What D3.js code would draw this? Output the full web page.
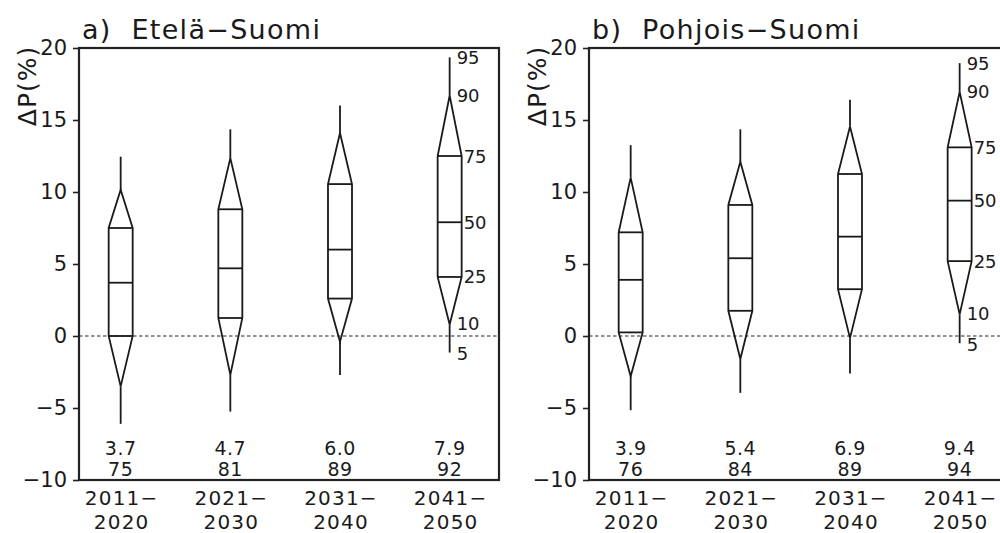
<!DOCTYPE html>
<html>
<head>
<meta charset="utf-8">
<script src="https://cdn.jsdelivr.net/npm/d3@7/dist/d3.min.js"></script>
<style>
  html, body { margin: 0; padding: 0; background: #fff; }
  svg { display: block; }
  text { font-family: "DejaVu Sans", sans-serif; fill: #1a1a1a; }
</style>
</head>
<body>
<svg id="chart" width="1000" height="533"></svg>
<script>
// Periods on the x axis (two text lines each)
const periodStart = ["2011−", "2021−", "2031−", "2041−"];
const periodEnd   = ["2020", "2030", "2040", "2050"];

// Percentile levels shown beside the last box
const pctLevels = [95, 90, 75, 50, 25, 10, 5];

// Southern Finland: percentiles of precipitation change (%)
const southP5  = [-6.1, -5.25, -2.7, -1.15];
const southP10 = [-3.5, -2.7, -0.4, 0.8];
const southP25 = [0.0, 1.25, 2.6, 4.1];
const southP50 = [3.7, 4.7, 6.0, 7.9];
const southP75 = [7.5, 8.8, 10.55, 12.5];
const southP90 = [10.15, 12.35, 14.1, 16.7];
const southP95 = [12.45, 14.35, 16.0, 19.35];
const southProb = [75, 81, 89, 92];

// Northern Finland
const northP5  = [-5.15, -3.95, -2.6, -0.5];
const northP10 = [-2.8, -1.6, -0.15, 1.5];
const northP25 = [0.25, 1.75, 3.25, 5.2];
const northP50 = [3.9, 5.4, 6.9, 9.4];
const northP75 = [7.2, 9.1, 11.25, 13.1];
const northP90 = [11.0, 12.1, 14.55, 16.95];
const northP95 = [13.25, 14.35, 16.4, 18.95];
const northProb = [76, 84, 89, 94];

// Y axis ticks
const yTicks = [-10, -5, 0, 5, 10, 15, 20];

const panels = [
  { title: "a)  Etelä−Suomi", x0: 79,
    p: [southP5, southP10, southP25, southP50, southP75, southP90, southP95], prob: southProb },
  { title: "b)  Pohjois−Suomi", x0: 589,
    p: [northP5, northP10, northP25, northP50, northP75, northP90, northP95], prob: northProb }
];

const svg = d3.select("#chart");
const plotW = 420, plotTop = 48, plotBottom = 480;
const halfW = 12;
const fmt = d3.format(".1f");
const minus = s => String(s).replace("-", "−");

const y = d3.scaleLinear().domain([-10, 20]).range([plotBottom, plotTop]);

panels.forEach(panel => {
  const g = svg.append("g");
  const x = d3.scaleLinear().domain([0.62, 4.45]).range([panel.x0, panel.x0 + plotW]);
  const idx = d3.range(periodStart.length);
  const [p5, p10, p25, p50, p75, p90, p95] = panel.p;

  // Zero reference line
  g.append("line")
    .attr("x1", x.range()[0]).attr("x2", x.range()[1])
    .attr("y1", y(0)).attr("y2", y(0))
    .attr("stroke", "#222").attr("stroke-width", 1)
    .attr("stroke-dasharray", "3.5,2.5");

  // Y axis
  const yAxis = d3.axisLeft(y).tickValues(yTicks).tickSize(6).tickPadding(6)
    .tickFormat(d => minus(d));
  const ya = g.append("g").attr("transform", `translate(${panel.x0},0)`).call(yAxis);
  ya.select(".domain").remove();
  ya.selectAll(".tick line").attr("stroke", "#222").attr("stroke-width", 1.6);
  ya.selectAll(".tick text").attr("font-size", 21).attr("fill", "#1a1a1a")
    .attr("font-family", "DejaVu Sans, sans-serif");

  // Frame
  g.append("rect")
    .attr("x", panel.x0).attr("y", plotTop)
    .attr("width", plotW).attr("height", plotBottom - plotTop)
    .attr("fill", "none").attr("stroke", "#222").attr("stroke-width", 2.2);

  // Title
  g.append("text")
    .attr("x", panel.x0 + 3).attr("y", 39)
    .attr("font-size", 27).attr("letter-spacing", 1.3).style("white-space", "pre")
    .text(panel.title);

  // Y label
  g.append("text")
    .attr("transform", `translate(${panel.x0 - 52},86) rotate(-90)`)
    .attr("text-anchor", "middle").attr("dominant-baseline", "central")
    .attr("font-size", 25).attr("letter-spacing", 1)
    .text("ΔP(%)");

  const stroke = "#1a1a1a", sw = 1.8;

  idx.forEach(i => {
    const cx = x(i + 1);
    // Whiskers 5–10 and 90–95
    g.append("line").attr("x1", cx).attr("x2", cx)
      .attr("y1", y(p95[i])).attr("y2", y(p90[i]))
      .attr("stroke", stroke).attr("stroke-width", sw);
    g.append("line").attr("x1", cx).attr("x2", cx)
      .attr("y1", y(p10[i])).attr("y2", y(p5[i]))
      .attr("stroke", stroke).attr("stroke-width", sw);
    // Outline: apex at 90, box 75–25, apex at 10
    const pts = [
      [cx, y(p90[i])], [cx + halfW, y(p75[i])], [cx + halfW, y(p25[i])],
      [cx, y(p10[i])], [cx - halfW, y(p25[i])], [cx - halfW, y(p75[i])]
    ];
    g.append("path").attr("d", d3.line()(pts) + "Z")
      .attr("fill", "none").attr("stroke", stroke).attr("stroke-width", sw)
      .attr("stroke-linejoin", "miter");
    // Horizontal lines at 75, 50, 25
    [p75[i], p50[i], p25[i]].forEach(v => {
      g.append("line").attr("x1", cx - halfW).attr("x2", cx + halfW)
        .attr("y1", y(v)).attr("y2", y(v))
        .attr("stroke", stroke).attr("stroke-width", sw);
    });

    // Median and probability text
    g.append("text").attr("x", cx).attr("y", y(-7.8))
      .attr("text-anchor", "middle").attr("dominant-baseline", "central")
      .attr("font-size", 19).attr("letter-spacing", 0.5).text(fmt(p50[i]));
    g.append("text").attr("x", cx).attr("y", y(-9.25))
      .attr("text-anchor", "middle").attr("dominant-baseline", "central")
      .attr("font-size", 19).attr("letter-spacing", 0.5).text(panel.prob[i]);

    // Period label, two lines
    g.append("text").attr("x", cx + 1).attr("y", 497.5)
      .attr("text-anchor", "middle").attr("dominant-baseline", "central")
      .attr("font-size", 20).attr("letter-spacing", 1.2).text(periodStart[i]);
    g.append("text").attr("x", cx + 1).attr("y", 521.5)
      .attr("text-anchor", "middle").attr("dominant-baseline", "central")
      .attr("font-size", 20).attr("letter-spacing", 1.2).text(periodEnd[i]);
  });

  // Percentile labels beside the last box
  const last = idx.length - 1;
  const lcx = x(last + 1);
  const vals = [p95[last], p90[last], p75[last], p50[last], p25[last], p10[last], p5[last]];
  pctLevels.forEach((lvl, k) => {
    const inBox = lvl >= 25 && lvl <= 75;
    const dy = lvl === 10 ? -1 : (lvl === 5 ? 1 : 0);
    g.append("text")
      .attr("x", lcx + (inBox ? halfW + 2 : 7))
      .attr("y", y(vals[k]) + dy)
      .attr("dominant-baseline", "central")
      .attr("font-size", 18)
      .text(lvl);
  });
});
</script>
</body>
</html>
